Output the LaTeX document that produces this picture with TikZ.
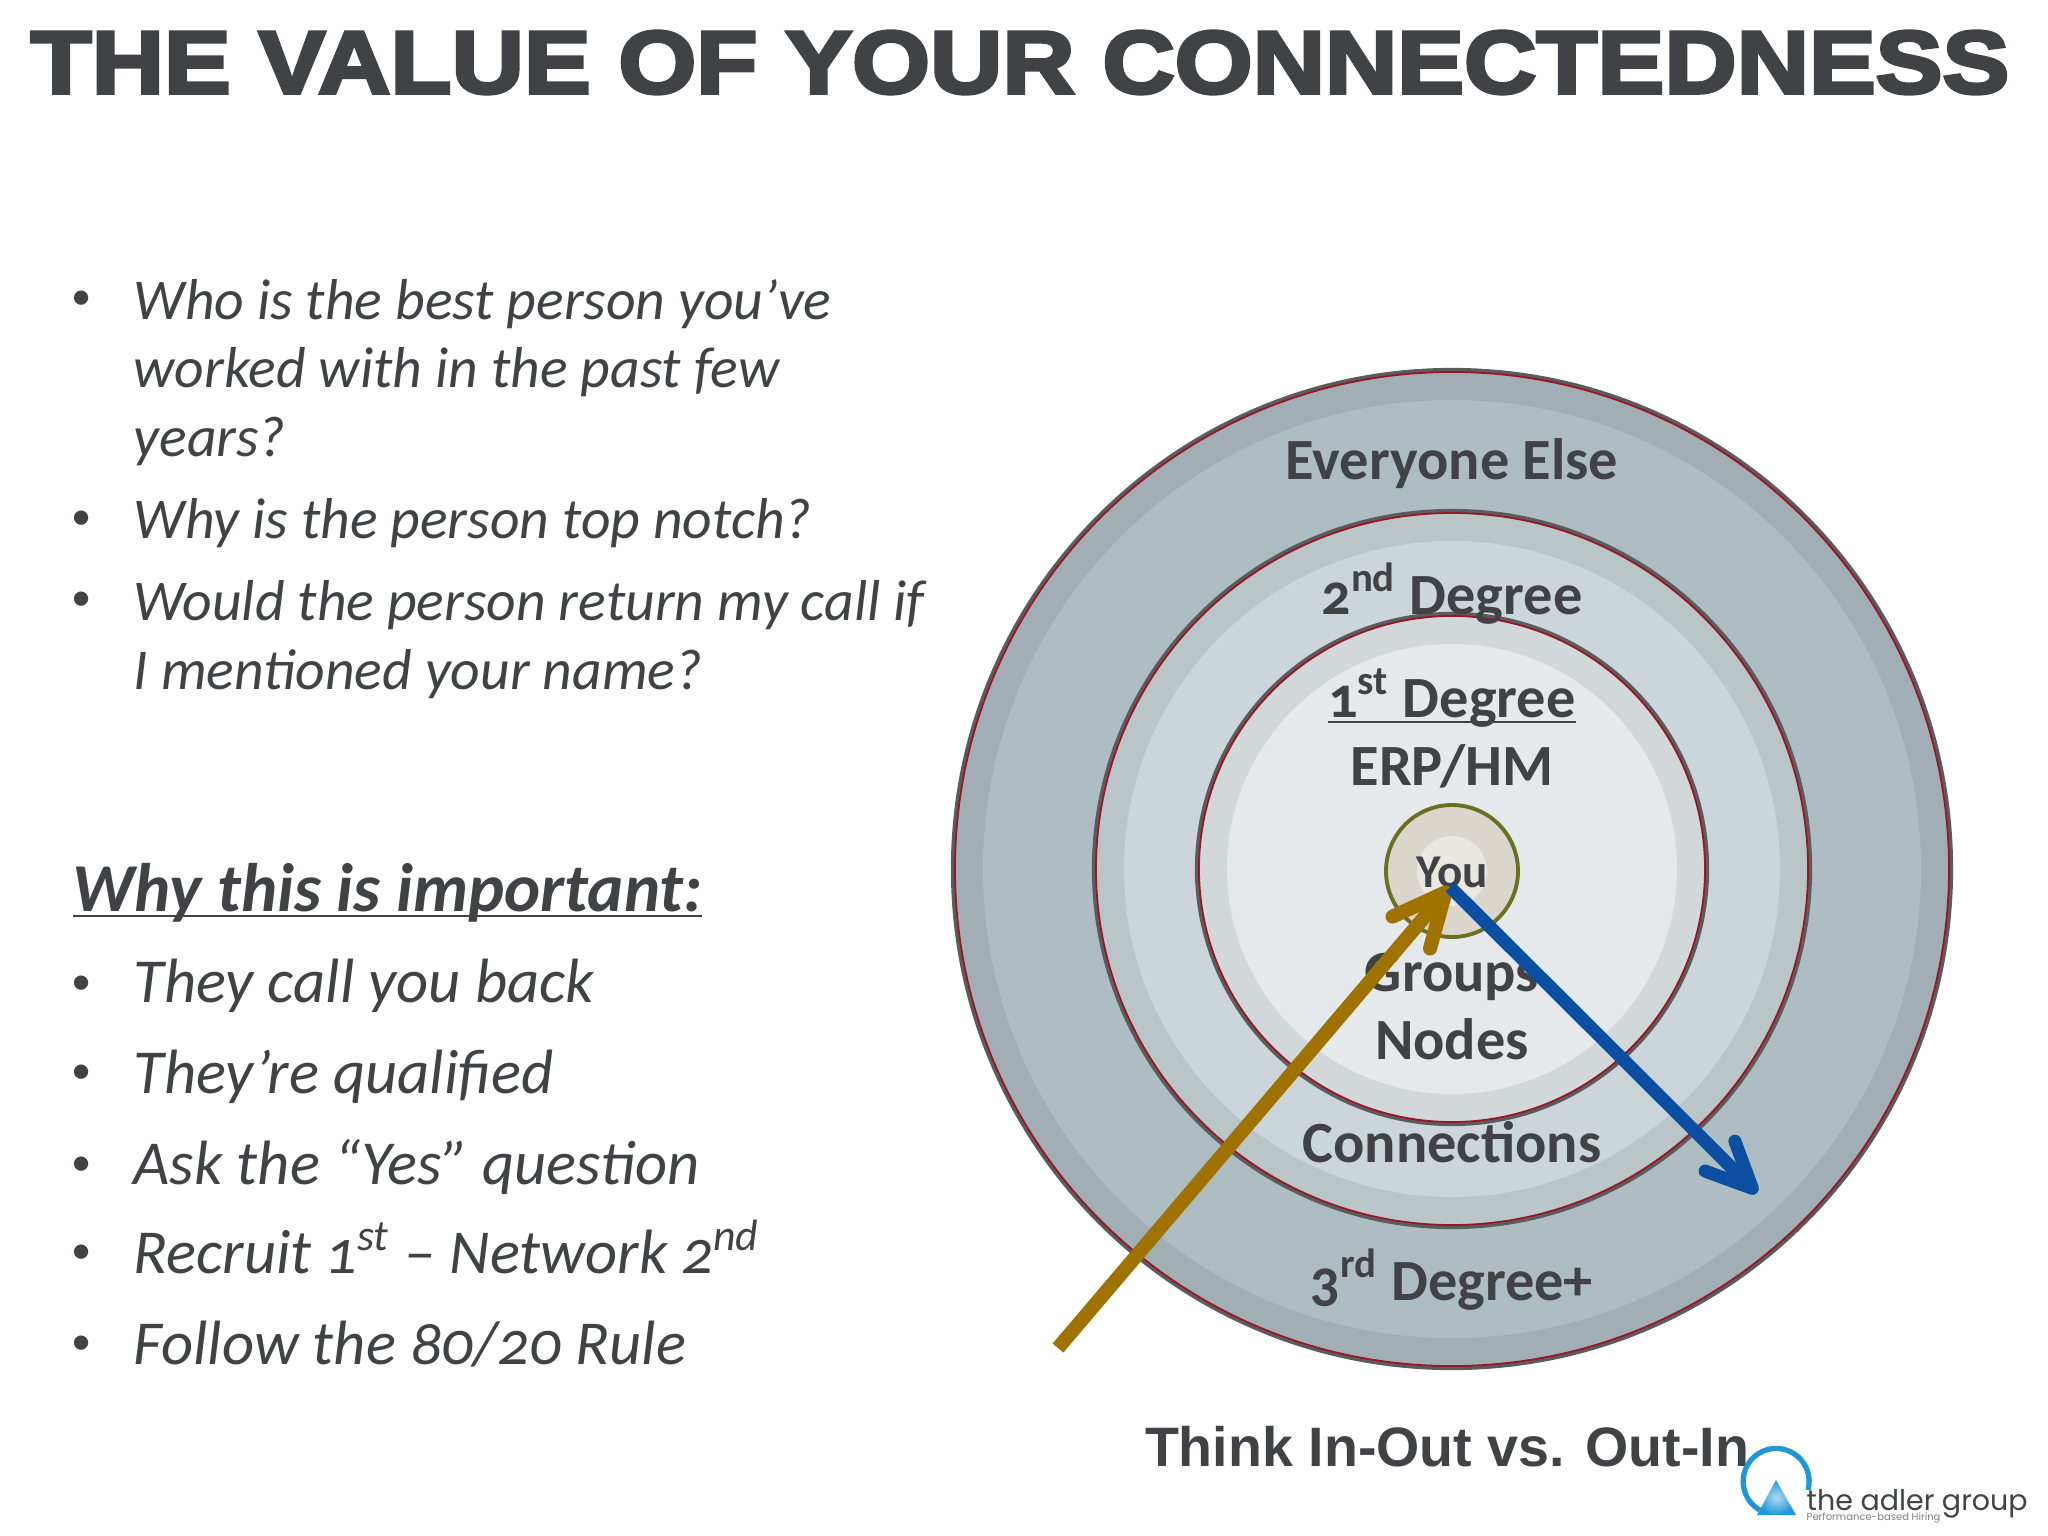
\documentclass[tikz,border=0pt]{standalone}
\usepackage{fontspec}
\setmainfont[Numbers=OldStyle]{Carlito}
\newfontfamily\titlefont[FakeBold=4,FakeStretch=1.13]{Liberation Sans Bold}
\newfontfamily\armfont{Liberation Sans}
\newfontfamily\logofont{Poppins}
\usepackage{xcolor}
\usetikzlibrary{arrows.meta}
\definecolor{inkgray}{HTML}{404245}
\definecolor{rimgray}{HTML}{5A5C5E}
\definecolor{rimred}{HTML}{9A1526}
\definecolor{bandA}{HTML}{A1AFB4}
\definecolor{fillA}{HTML}{AEBDC2}
\definecolor{bandB}{HTML}{BAC5C7}
\definecolor{fillB}{HTML}{CCD6DA}
\definecolor{bandC}{HTML}{D2D7D9}
\definecolor{fillC}{HTML}{E6E9EB}
\definecolor{bandY}{HTML}{DAD6CE}
\definecolor{fillY}{HTML}{EAE6E0}
\definecolor{rimolive}{HTML}{6B7020}
\definecolor{armbrown}{HTML}{A07200}
\definecolor{armblue}{HTML}{0B4EA2}
\definecolor{logoblue}{HTML}{1E96D8}
\tikzset{
	asktext/.style={anchor=base west, inner sep=0pt, text=inkgray, font=\fontsize{16.4}{16.4}\selectfont\itshape},
	whytext/.style={anchor=base west, inner sep=0pt, text=inkgray, font=\fontsize{17.8}{17.8}\selectfont\itshape},
	dotmark/.style={anchor=center, inner sep=0pt, text=inkgray, font=\fontsize{11.5}{11.5}\selectfont},
	ringtext/.style={anchor=base, inner sep=0pt, text=inkgray, font=\fontsize{16.6}{16.6}\selectfont\bfseries},
}
\begin{document}
\begin{tikzpicture}[x=0.01cm, y=-0.01cm]
	\useasboundingbox (0,0) rectangle (2048,1536);

	% Title
	\node[anchor=base, inner sep=0pt, text=inkgray, font=\fontsize{25.2}{25.2}\titlefont] (title) at (1020,93) {THE VALUE OF YOUR CONNECTEDNESS};

	% Questions
	\node[asktext] (askA) at (133,319) {Who is the best person you’ve};
	\node[asktext] (askB) at (133,387) {worked with in the past few};
	\node[asktext] (askC) at (133,456) {years?};
	\node[asktext] (askD) at (133,538) {Why is the person top notch?};
	\node[asktext] (askE) at (133,620) {Would the person return my call if};
	\node[asktext] (askF) at (133,689) {I mentioned your name?};

	% Reasons
	\node[anchor=base west, inner sep=0pt, text=inkgray, font=\fontsize{19.5}{19.5}\selectfont\bfseries\itshape] (whyhead) at (72,911) {\underline{\smash{Why this is important:}}};
	\node[whytext] (whyA) at (133,1002) {They call you back};
	\node[whytext] (whyB) at (133,1093) {They’re qualified};
	\node[whytext] (whyC) at (133,1184) {Ask the “Yes” question};
	\node[whytext] (whyD) at (133,1273) {Recruit 1\textsuperscript{st} – Network 2\textsuperscript{nd}};
	\node[whytext] (whyE) at (133,1364) {Follow the 80/20 Rule};

	% Bullets
	\foreach \y in {300,520,601}
	\node[dotmark] (dot\y) at (82,\y) {•};
	\foreach \y in {985,1074,1166,1254,1345}
	\node[dotmark] (dot\y) at (82,\y) {•};

	% Rings, outside to inside
	\foreach \r/\band/\inner in {498/bandA/fillA,357/bandB/fillB,254/bandC/fillC}{
		\fill[\band] (1452,869) circle (\r);
		\fill[\inner] (1452,869) circle (\r-29);
		\draw[rimgray, line width=1.2pt] (1452,869) circle (\r+1);
		\draw[rimred, line width=0.5pt] (1452,869) circle (\r-1);
	}

	% You
	\fill[bandY] (1452,871) circle (66);
	\fill[fillY] (1452,871) circle (35);
	\draw[rimolive, line width=1.1pt] (1452,871) circle (66);

	% Ring labels
	\node[ringtext] (everyone) at (1452,479) {Everyone Else};
	\node[ringtext] (second) at (1452,614) {2\textsuperscript{nd} Degree};
	\node[ringtext] (first) at (1452,717) {\underline{\smash{1\textsuperscript{st} Degree}}};
	\node[ringtext] (erp) at (1452,785) {ERP/HM};
	\node[ringtext, font=\fontsize{13.4}{13.4}\selectfont\bfseries] (you) at (1452,887) {You};
	\node[ringtext] (groups) at (1452,991) {Groups};
	\node[ringtext] (nodes) at (1452,1059) {Nodes};
	\node[ringtext] (connections) at (1452,1162) {Connections};
	\node[ringtext] (third) at (1452,1300) {3\textsuperscript{rd} Degree+};

	% Arrows
	\coordinate (centre) at (1450,887);
	\coordinate (inend) at (1058,1348);
	\coordinate (outend) at (1757,1193);
	\draw[-{Straight Barb[length=15pt,width=14pt,round]}, armbrown, line width=4pt] (inend) -- (centre);
	\draw[-{Straight Barb[length=13pt,width=12pt,round]}, armblue, line width=3.7pt] (centre) -- (outend);

	% Caption
	\node[anchor=base, inner sep=0pt, text=inkgray, font=\fontsize{15.8}{15.8}\armfont\bfseries] (caption) at (1447,1466) {Think In-Out vs. Out-In};

	% Logo
	\draw[logoblue, line width=1.5pt] (1808,1490) arc[start angle=15, end angle=-240, radius=33];
	\shade[inner color=logoblue!35, outer color=logoblue] (1776,1480) -- (1796,1515) -- (1757,1515) -- cycle;
	\node[anchor=base west, inner sep=0pt, text=inkgray, font=\fontsize{8.1}{8.1}\logofont] (logoname) at (1806,1510) {the adler group};
	\node[anchor=base west, inner sep=0pt, text=gray, font=\fontsize{2.85}{2.85}\logofont] (logotag) at (1806,1520) {Performance-based Hiring};
\end{tikzpicture}
\end{document}
